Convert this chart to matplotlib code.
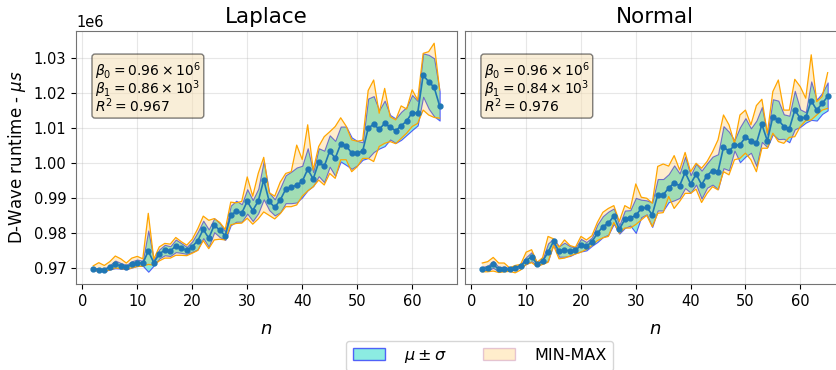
import numpy as np
import matplotlib
matplotlib.use("Agg")
from matplotlib import pyplot as plt
from matplotlib.patches import Patch
from matplotlib.ticker import MultipleLocator

# problem size n = 2..65, runtimes in ms (converted to microseconds for plotting)
n_vals = np.arange(2, 66)

laplace_mean = [969.7, 969.5, 969.4, 970.2, 971.0, 970.6, 970.2, 971.0, 971.5, 971.3,
                974.8, 971.5, 974.0, 975.1, 974.8, 976.3, 975.7, 975.0, 976.1, 977.8,
                981.0, 978.5, 982.2, 980.8, 979.2, 985.0, 986.2, 985.7, 989.0, 986.4,
                989.1, 995.1, 989.0, 987.3, 989.4, 992.5, 993.0, 993.7, 994.7, 998.2,
                995.4, 1000.2, 999.0, 1003.4, 1001.3, 1005.4, 1004.9, 1002.8, 1002.8, 1003.4,
                1009.9, 1011.1, 1009.6, 1011.3, 1010.2, 1009.2, 1010.6, 1012.0, 1014.4, 1014.2,
                1025.1, 1023.2, 1021.6, 1016.3]
laplace_std = [0.3, 0.4, 0.4, 0.6, 1.1, 0.8, 0.6, 0.9, 0.9, 0.7,
               5.9, 0.8, 1.3, 1.5, 1.4, 1.8, 1.4, 1.0, 1.5, 2.5,
               2.5, 2.5, 2.0, 2.0, 1.2, 2.8, 3.0, 2.5, 3.5, 3.0,
               3.5, 5.5, 2.5, 2.3, 3.5, 4.0, 4.5, 5.0, 4.5, 6.0,
               2.0, 4.0, 4.5, 4.5, 5.0, 5.0, 5.5, 4.5, 3.5, 2.5,
               8.5, 8.0, 5.5, 6.5, 3.5, 3.5, 4.0, 4.0, 5.0, 3.5,
               6.2, 7.7, 8.3, 4.2]
laplace_max = [970.6, 971.5, 970.7, 971.8, 973.4, 972.6, 971.4, 972.8, 973.3, 972.6,
               985.6, 972.5, 976.0, 977.0, 976.8, 978.7, 977.5, 976.5, 978.2, 981.2,
               984.8, 983.6, 984.1, 983.0, 981.0, 988.8, 988.6, 989.0, 996.0, 990.5,
               997.0, 1001.6, 991.5, 990.5, 994.5, 997.0, 997.5, 1005.1, 1001.0, 1010.9,
               998.0, 1004.7, 1007.5, 1008.9, 1010.4, 1012.9, 1010.5, 1006.6, 1006.2, 1006.5,
               1020.7, 1023.7, 1014.2, 1021.3, 1013.2, 1012.3, 1016.3, 1015.4, 1020.9, 1018.0,
               1031.3, 1031.8, 1034.2, 1020.9]
laplace_min = [969.3, 969.1, 969.1, 969.4, 970.0, 969.8, 969.6, 970.0, 970.4, 970.5,
               971.0, 970.8, 972.0, 972.8, 972.8, 973.6, 973.6, 973.5, 974.2, 975.0,
               977.8, 975.5, 978.0, 978.2, 978.0, 982.3, 982.7, 982.8, 984.2, 982.5,
               984.0, 986.0, 985.0, 984.0, 985.5, 987.5, 987.5, 988.0, 990.5, 992.0,
               993.2, 995.1, 993.7, 997.0, 995.6, 1000.9, 1000.9, 997.5, 998.9, 1001.3,
               1001.3, 1000.4, 1004.7, 1005.6, 1006.1, 1005.5, 1007.0, 1008.5, 1010.4, 1011.3,
               1015.1, 1013.7, 1013.0, 1012.8]

normal_mean = [969.8, 970.0, 971.0, 969.6, 969.8, 969.6, 970.0, 970.6, 972.1, 973.2,
               971.1, 971.9, 974.5, 977.6, 974.7, 975.2, 974.8, 975.0, 976.5, 976.2,
               977.5, 979.9, 981.8, 982.8, 984.8, 981.0, 983.9, 984.3, 985.0, 987.0,
               987.3, 985.2, 990.9, 990.9, 992.8, 994.3, 993.5, 997.3, 994.0, 996.8,
               993.8, 996.4, 997.8, 997.5, 1004.5, 1003.4, 1005.0, 1005.2, 1007.3, 1006.4,
               1005.6, 1011.0, 1006.3, 1013.2, 1012.3, 1010.4, 1009.7, 1015.1, 1012.8, 1013.0,
               1017.8, 1015.1, 1017.0, 1019.0]
normal_std = [0.5, 0.6, 1.0, 0.6, 0.6, 0.3, 0.5, 0.4, 1.0, 1.3,
              0.4, 0.6, 2.5, 0.8, 1.5, 2.0, 1.4, 0.8, 1.8, 1.2,
              1.2, 2.5, 3.0, 3.3, 2.2, 1.2, 2.5, 2.2, 5.0, 2.5,
              2.0, 3.5, 4.5, 4.5, 4.0, 5.0, 3.5, 4.5, 2.5, 3.0,
              4.0, 3.5, 4.0, 5.0, 6.0, 5.5, 1.5, 5.0, 5.5, 3.5,
              6.5, 5.0, 1.8, 5.0, 5.5, 3.5, 3.8, 5.5, 2.5, 1.5,
              5.5, 3.0, 3.0, 4.0]
normal_max = [971.4, 971.8, 973.0, 971.4, 971.4, 970.0, 970.7, 971.0, 974.5, 975.2,
              971.6, 972.9, 979.0, 978.3, 975.9, 978.0, 976.4, 975.9, 979.0, 978.0,
              979.2, 983.0, 985.9, 987.0, 987.8, 983.3, 987.8, 986.9, 994.0, 990.2,
              989.9, 988.5, 999.0, 999.7, 999.1, 1002.1, 998.0, 1003.0, 997.5, 999.9,
              998.5, 1000.4, 1003.2, 1006.6, 1013.7, 1010.9, 1005.6, 1013.7, 1015.1, 1010.9,
              1016.4, 1018.2, 1008.5, 1020.4, 1023.7, 1015.1, 1015.1, 1023.9, 1021.8, 1018.5,
              1030.9, 1017.5, 1019.0, 1025.8]
normal_min = [968.9, 968.9, 969.1, 968.7, 968.9, 969.0, 968.6, 969.4, 971.0, 971.5,
              970.4, 971.0, 971.6, 976.4, 972.6, 972.8, 973.4, 974.0, 974.5, 975.3,
              976.4, 977.8, 978.6, 979.0, 983.0, 979.9, 981.4, 981.4, 982.4, 983.7,
              985.0, 981.8, 985.6, 985.8, 990.4, 987.0, 989.0, 991.3, 991.3, 992.5,
              988.7, 991.3, 993.2, 992.3, 997.5, 996.6, 1000.9, 1001.3, 1002.8, 1000.9,
              997.5, 1004.2, 1004.2, 1008.5, 1006.1, 1005.6, 1007.3, 1007.5, 1010.4, 1012.1,
              1012.3, 1013.7, 1015.1, 1015.6]

panels = [
    ("Laplace", laplace_mean, laplace_std, laplace_min, laplace_max,
     r"$\beta_0 = 0.96 \times 10^6$" "\n" r"$\beta_1 = 0.86 \times 10^3$" "\n" r"$R^2 = 0.967$"),
    ("Normal", normal_mean, normal_std, normal_min, normal_max,
     r"$\beta_0 = 0.96 \times 10^6$" "\n" r"$\beta_1 = 0.84 \times 10^3$" "\n" r"$R^2 = 0.976$"),
]

fig = plt.figure(figsize=(8.36, 3.7), dpi=100)
ax1 = fig.add_axes([0.0909, 0.2324, 0.4557, 0.6838])
ax2 = fig.add_axes([0.5562, 0.2324, 0.4545, 0.6838], sharey=ax1)

for ax, (title, mean, std, lo, hi, txt) in zip([ax1, ax2], panels):
    mean = np.array(mean) * 1000
    std = np.array(std) * 1000
    lo = np.array(lo) * 1000
    hi = np.array(hi) * 1000

    ax.fill_between(n_vals, mean - std, mean + std, facecolor='turquoise',
                    edgecolor='blue', alpha=0.6, lw=0.8, zorder=2)
    ax.fill_between(n_vals, lo, hi, facecolor='orange', edgecolor='none',
                    alpha=0.2, zorder=3)
    ax.plot(n_vals, lo, color='orange', lw=0.9, zorder=4)
    ax.plot(n_vals, hi, color='orange', lw=0.9, zorder=4)
    ax.plot(n_vals, mean, 'o-', color='tab:blue', ms=3.5, lw=1.2, zorder=5)

    ax.set_title(title, fontsize=15.5, pad=6)
    ax.set_xlabel('$n$', fontsize=13, labelpad=8)
    ax.grid(True, alpha=0.3, zorder=0)
    ax.set_axisbelow(True)
    ax.tick_params(labelsize=10.5)
    for s in ax.spines.values():
        s.set_edgecolor('0.45')
    ax.text(0.05, 0.885, txt, transform=ax.transAxes, fontsize=10, va='top',
            linespacing=0.78,
            bbox=dict(boxstyle='round,pad=0.22', facecolor='wheat', alpha=0.5))

ax1.yaxis.set_major_locator(MultipleLocator(10000))
ax1.ticklabel_format(axis='y', style='sci', scilimits=(0, 0), useOffset=False)
ax1.yaxis.get_offset_text().set_fontsize(10.5)
ax1.set_ylim(965400, 1037700)
ax1.set_ylabel(r'D-Wave runtime - $\mu s$', fontsize=12)
ax2.tick_params(labelleft=False)

handles = [Patch(facecolor='turquoise', edgecolor='blue', alpha=0.6, label=r'$\mu \pm \sigma$'),
           Patch(facecolor='orange', edgecolor='purple', alpha=0.2, label='MIN-MAX')]
fig.legend(handles=handles, loc='upper center', bbox_to_anchor=(0.5736, 0.078),
           borderaxespad=0, ncol=2, fontsize=11.5, columnspacing=2.3, handletextpad=1.2)

fig.savefig('out.png', dpi=100)
